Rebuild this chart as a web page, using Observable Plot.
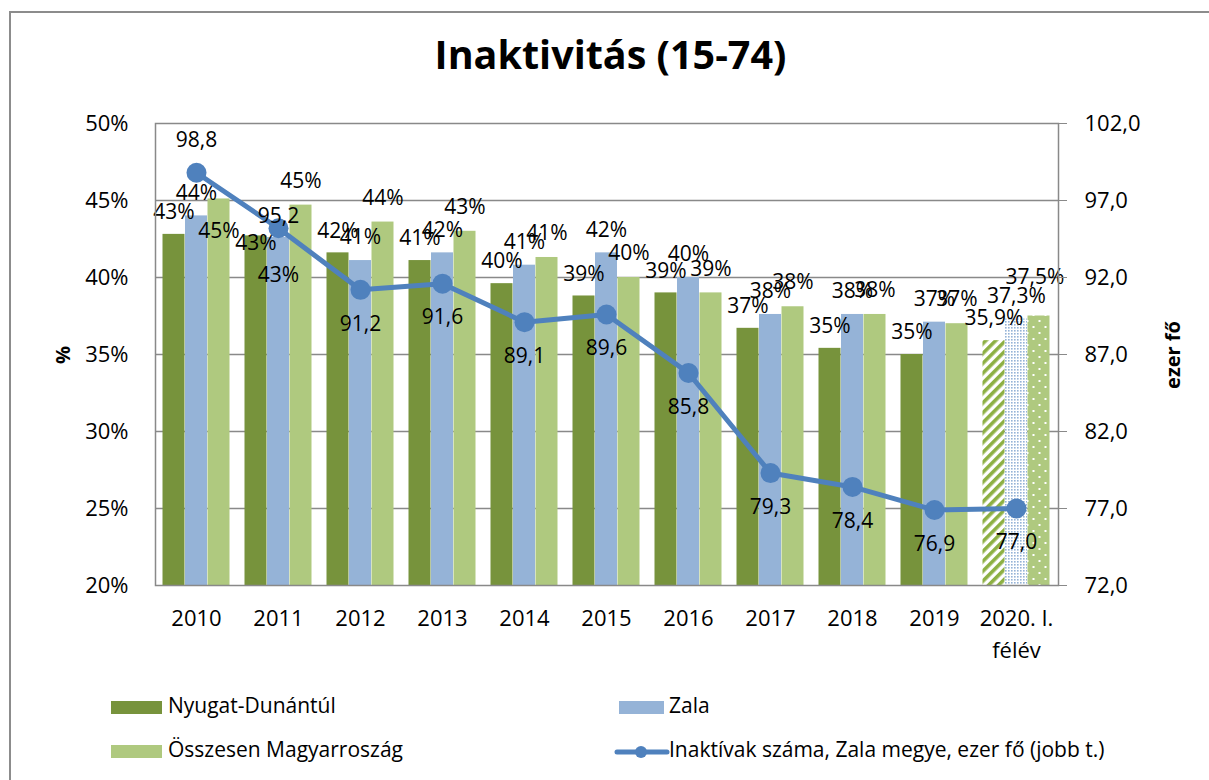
<!DOCTYPE html>
<html>
<head>
<meta charset="utf-8">
<script src="https://cdn.jsdelivr.net/npm/d3@7"></script>
<script src="https://cdn.jsdelivr.net/npm/@observablehq/plot@0.6"></script>
<style>
  body { margin: 0; background: #fff; font-family: "Open Sans", sans-serif; color: #000; }
  #wrap { position: relative; width: 1209px; height: 780px; overflow: hidden; }
  #border { position: absolute; left: 9px; top: 11px; width: 1400px; height: 1000px; border: 2px solid #8c8c8c; box-sizing: border-box; }
  #chart { position: absolute; left: 0; top: 0; }
  #title { position: absolute; left: 0; width: 1221px; top: 35px; text-align: center; font-weight: bold; font-size: 39.5px; line-height: 1; }
  .ytitle { position: absolute; font-weight: bold; font-size: 20px; transform: translate(-50%, -50%) rotate(-90deg); white-space: nowrap; }
  .leg { position: absolute; font-size: 21px; line-height: 1; white-space: nowrap; }
  .sw { position: absolute; }
</style>
</head>
<body>
<div id="wrap">
  <div id="border"></div>
  <div id="chart"></div>
  <div id="title">Inaktivitás (15-74)</div>
  <div class="ytitle" style="left:62px;top:355px;">%</div>
  <div class="ytitle" style="left:1172px;top:355px;">ezer fő</div>

  <div class="sw" style="left:111px;top:701px;width:51px;height:13px;background:#77933C;"></div>
  <div class="leg" style="left:168px;top:695px;">Nyugat-Dunántúl</div>
  <div class="sw" style="left:111px;top:745px;width:51px;height:13px;background:#AFC97F;"></div>
  <div class="leg" style="left:168px;top:739px;">Összesen Magyarroszág</div>

  <div class="sw" style="left:619px;top:701px;width:45px;height:13px;background:#95B3D7;"></div>
  <div class="leg" style="left:669px;top:695px;">Zala</div>
  <svg class="sw" style="left:614px;top:742px;" width="56" height="20">
    <line x1="3" y1="10" x2="53" y2="10" stroke="#4F81BD" stroke-width="5" stroke-linecap="round"></line>
    <circle cx="27" cy="10" r="6" fill="#4F81BD"></circle>
  </svg>
  <div class="leg" style="left:669px;top:739px;">Inaktívak száma, Zala megye, ezer fő (jobb t.)</div>
</div>
<script>
const categories = ["2010", "2011", "2012", "2013", "2014", "2015", "2016", "2017", "2018", "2019", "2020. I.\nfélév"];
const nyugatDunantul = [42.8, 42.7, 41.6, 41.1, 39.6, 38.8, 39.0, 36.7, 35.4, 35.0, 35.9];
const zala = [44.0, 42.6, 41.1, 41.6, 40.8, 41.6, 40.0, 37.6, 37.6, 37.1, 37.3];
const osszesen = [45.1, 44.7, 43.6, 43.0, 41.3, 40.0, 39.0, 38.1, 37.6, 37.0, 37.5];
const inaktivak = [98.8, 95.2, 91.2, 91.6, 89.1, 89.6, 85.8, 79.3, 78.4, 76.9, 77.0];
const leftTicks = [20, 25, 30, 35, 40, 45, 50];
const rightTicks = [72, 77, 82, 87, 92, 97, 102];

const colors = { nd: "#77933C", zala: "#95B3D7", ossz: "#AFC97F" };
const patterns = { nd: "url(#p-nd)", zala: "url(#p-zala)", ossz: "url(#p-ossz)" };
const lastCat = categories[categories.length - 1];

const leftSpan = leftTicks[leftTicks.length - 1] - leftTicks[0];
const rightSpan = rightTicks[rightTicks.length - 1] - rightTicks[0];
const toLeft = v => leftTicks[0] + (v - rightTicks[0]) * leftSpan / rightSpan;
const toRight = v => rightTicks[0] + (v - leftTicks[0]) * rightSpan / leftSpan;

const seriesDefs = [
  { key: "nd", values: nyugatDunantul, dx: -22.5 },
  { key: "zala", values: zala, dx: 0 },
  { key: "ossz", values: osszesen, dx: 22.5 }
];
const rows = [];
for (const s of seriesDefs) {
  categories.forEach((c, i) => rows.push({ cat: c, v: s.values[i], key: s.key, last: c === lastCat }));
}
const lineRows = categories.map((c, i) => ({ cat: c, v: inaktivak[i], i }));

const fmtPct = d => d.last ? d.v.toFixed(1).replace(".", ",") + "%" : Math.round(d.v) + "%";
const fmtNum = v => v.toFixed(1).replace(".", ",");

const marks = [
  Plot.ruleY(leftTicks.slice(1, -1), { stroke: "#898989", strokeWidth: 1.5 })
];
for (const s of seriesDefs) {
  marks.push(Plot.barY(rows.filter(r => r.key === s.key && !r.last), {
    x: "cat", y1: leftTicks[0], y2: "v", dx: s.dx, fill: colors[s.key]
  }));
  marks.push(Plot.barY(rows.filter(r => r.key === s.key && r.last), {
    x: "cat", y1: leftTicks[0], y2: "v", dx: s.dx, fill: patterns[s.key]
  }));
}
for (const s of seriesDefs) {
  marks.push(Plot.text(rows.filter(r => r.key === s.key), {
    x: "cat", y: "v", dx: s.dx, text: fmtPct, fontSize: 21, fill: "#000"
  }));
}
marks.push(
  Plot.frame({ stroke: "#898989", strokeWidth: 1.5 }),
  Plot.line(lineRows, { x: "cat", y: d => toLeft(d.v), stroke: "#4F81BD", strokeWidth: 5 }),
  Plot.dot(lineRows, { x: "cat", y: d => toLeft(d.v), r: 10, fill: "#4F81BD" }),
  Plot.text(lineRows, {
    x: "cat", y: d => toLeft(d.v), text: d => fmtNum(d.v), fontSize: 21, fill: "#000"
  }),
  Plot.axisY(leftTicks, { label: null, tickSize: 0, tickPadding: 27, tickFormat: d => d + "%", fontSize: 22 }),
  Plot.axisY(leftTicks, { label: null, anchor: "right", tickSize: 8, tickPadding: 18, stroke: "#898989", tickFormat: d => fmtNum(toRight(d)), fontSize: 22 }),
  Plot.axisX({ label: null, tickSize: 0, tickPadding: 18, fontSize: 22, lineHeight: 1.45 })
);

const chart = Plot.plot({
  width: 1209,
  height: 780,
  marginTop: 123,
  marginBottom: 195,
  marginLeft: 155,
  marginRight: 151,
  style: { fontFamily: "Open Sans, sans-serif", color: "#000", background: "transparent", overflow: "visible" },
  x: { domain: categories, paddingInner: 0.726, paddingOuter: 0.363, label: null },
  y: { domain: [leftTicks[0], leftTicks[leftTicks.length - 1]], label: null },
  marks
});

// label placement as in the original (Excel) chart
function shift(group, fn) {
  if (!group) return;
  group.querySelectorAll("text").forEach((t, i) => {
    const [dx, dy] = fn(i);
    t.setAttribute("transform", (t.getAttribute("transform") || "") + ` translate(${dx},${dy})`);
  });
}
const barShift = [
  i => [0, i === 1 ? 7 : -22],
  i => [0, i === 1 ? 38 : -23],
  i => i === 0 ? [0, 32] : i === categories.length - 1 ? [-4, -39] : [0, -24]
];
const textGroups = chart.querySelectorAll("g[aria-label='text']");
barShift.forEach((fn, k) => shift(textGroups[k], fn));
shift(textGroups[3], i => [0, i === 0 ? -33 : i === 1 ? -12 : 34]);

const ns = "http://www.w3.org/2000/svg";
const defs = document.createElementNS(ns, "defs");
defs.innerHTML = `
  <pattern id="p-nd" patternUnits="userSpaceOnUse" width="7" height="7" patternTransform="rotate(-45)">
    <rect width="7" height="7" fill="#fff"/>
    <rect width="7" height="3.6" fill="#8DB043"/>
  </pattern>
  <pattern id="p-zala" patternUnits="userSpaceOnUse" width="3" height="3">
    <rect width="3" height="3" fill="#fff"/>
    <rect width="1.6" height="1.6" fill="#95B3D7"/>
  </pattern>
  <pattern id="p-ossz" patternUnits="userSpaceOnUse" width="12" height="12">
    <rect width="12" height="12" fill="#AFC97F"/>
    <rect x="2" y="2" width="2" height="2" fill="#fff"/>
    <rect x="8" y="8" width="2" height="2" fill="#fff"/>
  </pattern>`;
chart.insertBefore(defs, chart.firstChild);
document.getElementById("chart").appendChild(chart);
</script>
</body>
</html>
